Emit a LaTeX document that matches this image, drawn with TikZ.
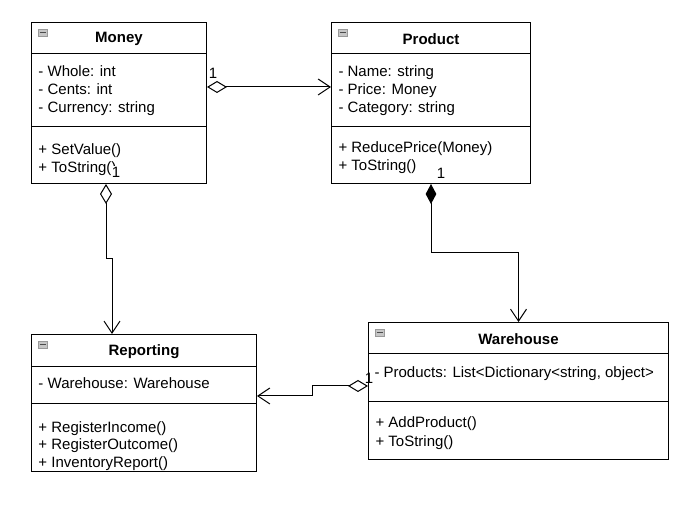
\documentclass[tikz,border=0pt]{standalone}
\usepackage{fontspec}
\setmainfont{Liberation Sans}
\usetikzlibrary{arrows.meta,calc}

\begin{document}
\begin{tikzpicture}[x=0.75pt, y=-0.75pt, line width=0.75pt,
    classbox/.style={draw, anchor=north west, inner sep=0pt},
    title/.style={font=\fontsize{11.25}{13.5}\selectfont\bfseries},
    member/.style={anchor=base west, inner sep=0pt, font=\fontsize{11.25}{13.5}\selectfont},
    mult/.style={inner sep=0.5pt, font=\fontsize{11.25}{13.5}\selectfont},
    collapse/.style={draw=gray!80, fill=gray!45, line width=0.5pt},
    agg/.style={{Diamond[open,length=15pt,width=9pt]}-{Straight Barb[length=9pt,width=12pt]}},
    comp/.style={{Diamond[length=15pt,width=8pt]}-{Straight Barb[length=9pt,width=12pt]}}]
    \useasboundingbox (0,0) rectangle (687,506);

    % Class boxes
    \node[classbox, minimum width=131.25pt, minimum height=120.75pt] (money) at (31,22) {};
    \node[classbox, minimum width=149.25pt, minimum height=120.75pt] (product) at (331,22) {};
    \node[classbox, minimum width=168.75pt, minimum height=102.75pt] (reporting) at (31,334) {};
    \node[classbox, minimum width=225pt, minimum height=102.75pt] (warehouse) at (368,322) {};

    % Compartment lines
    \draw ($(money.north west)+(0,32)$) -- ($(money.north east)+(0,32)$);
    \draw ($(money.north west)+(0,105)$) -- ($(money.north east)+(0,105)$);
    \draw ($(product.north west)+(0,32)$) -- ($(product.north east)+(0,32)$);
    \draw ($(product.north west)+(0,105)$) -- ($(product.north east)+(0,105)$);
    \draw ($(reporting.north west)+(0,33)$) -- ($(reporting.north east)+(0,33)$);
    \draw ($(reporting.north west)+(0,70)$) -- ($(reporting.north east)+(0,70)$);
    \draw ($(warehouse.north west)+(0,32)$) -- ($(warehouse.north east)+(0,32)$);
    \draw ($(warehouse.north west)+(0,80)$) -- ($(warehouse.north east)+(0,80)$);

    % Collapse icons
    \foreach \b in {money,product,reporting,warehouse} {
        \draw[collapse] ($(\b.north west)+(7,7)$) rectangle ($(\b.north west)+(16,14)$);
        \draw[gray!60!black, line width=0.6pt] ($(\b.north west)+(8.5,10.5)$) -- ($(\b.north west)+(14.5,10.5)$);
    }

    % Titles
    \node[title] (money-t) at ($(money.north)+(0,17)$) {Money};
    \node[title] (product-t) at ($(product.north)+(0,17)$) {Product};
    \node[title] (reporting-t) at ($(reporting.north)+(0,18)$) {Reporting};
    \node[title] (warehouse-t) at ($(warehouse.north)+(0,17)$) {Warehouse};

    % Members
    \foreach \txt [count=\i] in {- Whole: int, - Cents: int, - Currency: string}
        \node[member] (money-a\i) at ($(money.north west)+(7,37+18*\i)$) {\txt};
    \foreach \txt [count=\i] in {+ SetValue(), + ToString()}
        \node[member] (money-m\i) at ($(money.north west)+(7,115+18*\i)$) {\txt};
    \foreach \txt [count=\i] in {- Name: string, - Price: Money, - Category: string}
        \node[member] (product-a\i) at ($(product.north west)+(7,37+18*\i)$) {\txt};
    \foreach \txt [count=\i] in {+ ReducePrice(Money), + ToString()}
        \node[member] (product-m\i) at ($(product.north west)+(7,113+18*\i)$) {\txt};
    \node[member] (reporting-a1) at ($(reporting.north west)+(7,55)$) {- Warehouse: Warehouse};
    \foreach \txt [count=\i] in {+ RegisterIncome(), + RegisterOutcome(), + InventoryReport()}
        \node[member] (reporting-m\i) at ($(reporting.north west)+(7,81+17.5*\i)$) {\txt};
    \node[member] (warehouse-a1) at ($(warehouse.north west)+(6,56)$) {- Products: List<Dictionary<string, object>};
    \foreach \txt [count=\i] in {+ AddProduct(), + ToString()}
        \node[member] (warehouse-m\i) at ($(warehouse.north west)+(7,87+19*\i)$) {\txt};

    % Connectors
    \coordinate (ms) at ($(money.south west)+(75,0)$);
    \coordinate (rn) at ($(reporting.north west)+(81,0)$);
    \coordinate (ws) at ($(warehouse.north west)+(0,64)$);
    \coordinate (re) at ($(reporting.north east)+(0,62)$);
    \draw[agg] ($(money.north east)+(0,65)$) -- ($(product.north west)+(0,65)$);
    \draw[agg] (ms) -- ($(ms)!.5!(ms |- rn)$) -| (rn);
    \draw[comp] (product.south) -- ($(product.south)!.5!(product.south |- warehouse.north)$) -| (warehouse.north);
    \draw[agg] (ws) -- ($(ws)!.5!(ws -| re)$) |- (re);

    % Multiplicities
    \node[mult] (m1) at ($(money.north east)+(6,51)$) {1};
    \node[mult, fill=white] (m2) at ($(money.south west)+(85,-12)$) {1};
    \node[mult] (m3) at ($(product.south)+(10,-11)$) {1};
    \node[mult] (m4) at ($(warehouse.north west)+(1,56)$) {1};
\end{tikzpicture}
\end{document}
